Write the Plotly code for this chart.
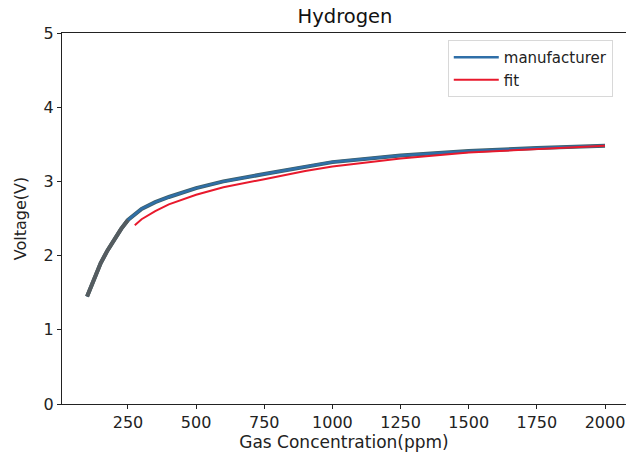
import plotly.graph_objects as go

# Manufacturer curve (ppm, V)
man_x = [100, 125, 150, 175, 200, 225, 250, 300, 350, 400, 500, 600, 750, 900, 1000, 1250, 1500, 1750, 2000]
man_y = [1.45, 1.68, 1.90, 2.07, 2.22, 2.36, 2.48, 2.63, 2.72, 2.79, 2.91, 3.00, 3.10, 3.20, 3.26, 3.35, 3.41, 3.45, 3.48]

# Fit curve (ppm, V)
fit_x = [275, 300, 350, 400, 500, 600, 750, 900, 1000, 1250, 1500, 1750, 2000]
fit_y = [2.41, 2.49, 2.60, 2.69, 2.82, 2.92, 3.03, 3.14, 3.20, 3.31, 3.39, 3.44, 3.48]

x_ticks = [250, 500, 750, 1000, 1250, 1500, 1750, 2000]
y_ticks = [0, 1, 2, 3, 4, 5]

FONT = "DejaVu Sans"
fig = go.Figure()

# dark edge under the manufacturer curve
fig.add_trace(go.Scatter(x=man_x, y=man_y, mode="lines",
                         line=dict(color="#3f5f66", width=4), showlegend=False,
                         hoverinfo="skip"))
fig.add_trace(go.Scatter(x=man_x, y=man_y, mode="lines", name="manufacturer",
                         line=dict(color="#2f6fa8", width=2.5)))
# dark low-concentration segment drawn on top
fig.add_trace(go.Scatter(x=man_x[:7], y=man_y[:7], mode="lines",
                         line=dict(color="#555c60", width=4), showlegend=False,
                         hoverinfo="skip"))
fig.add_trace(go.Scatter(x=fit_x, y=fit_y, mode="lines", name="fit",
                         line=dict(color="#e8192c", width=2)))

fig.update_layout(
    width=626, height=459,
    margin=dict(l=62, r=0, t=33, b=55),
    paper_bgcolor="white", plot_bgcolor="white",
    font=dict(family=FONT, size=16, color="#222"),
    title=dict(text="Hydrogen", x=345 / 626, xanchor="center", y=1 - 16 / 459,
               yanchor="middle", font=dict(size=19.5, family=FONT, color="#111")),
    xaxis=dict(range=[8, 2077], tickvals=x_ticks, showgrid=False, zeroline=False,
               showline=True, linecolor="#222", linewidth=1.2, mirror=True,
               ticks="outside", ticklen=4, tickcolor="#222",
               tickfont=dict(size=16, family=FONT),
               title=dict(text="Gas Concentration(ppm)", standoff=2,
                          font=dict(size=17, family=FONT))),
    yaxis=dict(range=[0, 5], tickvals=y_ticks, showgrid=False, zeroline=False,
               showline=True, linecolor="#222", linewidth=1.2,
               ticks="outside", ticklen=4, tickcolor="#222",
               tickfont=dict(size=16, family=FONT),
               title=dict(text="Voltage(V)", standoff=12,
                          font=dict(size=16, family=FONT))),
    legend=dict(x=0.684, y=0.981, xanchor="left", yanchor="top", itemwidth=45,
                bgcolor="rgba(255,255,255,0.85)", bordercolor="#d8d8d8", borderwidth=1,
                font=dict(size=15, family=FONT)),
)

fig.write_html("out.html")
